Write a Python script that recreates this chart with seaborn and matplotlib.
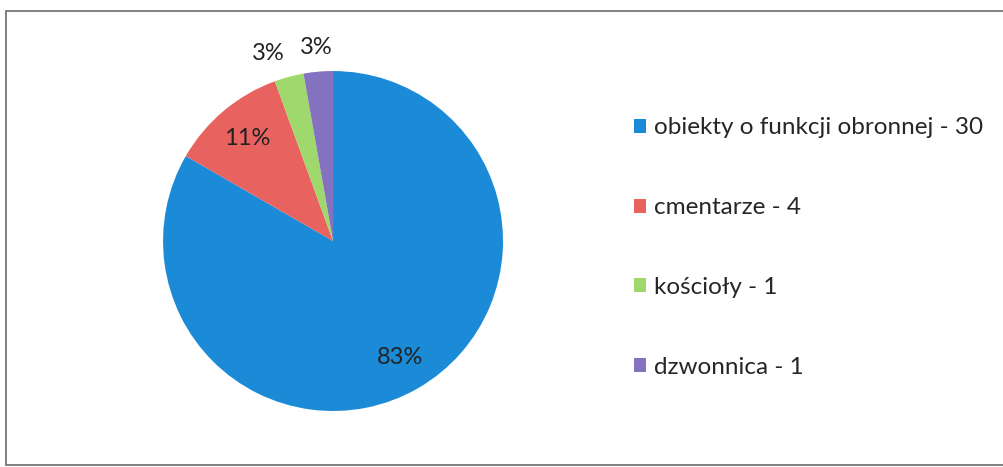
import matplotlib
matplotlib.use("Agg")
import matplotlib.pyplot as plt
import seaborn as sns
import numpy as np
from matplotlib.patches import Rectangle

sns.set_theme(style="white")
plt.rcParams['font.family'] = ['Lato', 'DejaVu Sans']

categories = ["obiekty o funkcji obronnej", "cmentarze", "kościoły", "dzwonnica"]
counts = [30, 4, 1, 1]
colors = sns.color_palette(["#1b8bd7", "#e8625f", "#9fd86c", "#8472c0"])

fig = plt.figure(figsize=(10.04, 4.67), dpi=100)
fig.patch.set_facecolor("white")
fig.patches.append(Rectangle((0.006, 0.004), 0.994, 0.972, transform=fig.transFigure,
                             fill=False, edgecolor="#6b6b6b", linewidth=1.2))

ax = fig.add_axes([0.1624, 0.1199, 0.3386, 0.728])
wedges, texts, autotexts = ax.pie(counts, colors=colors, startangle=90, counterclock=False,
                                  autopct=lambda p: f"{p:.0f}%", pctdistance=0.79,
                                  wedgeprops=dict(linewidth=0),
                                  textprops=dict(fontsize=17, color="#222222"))
ax.set_xlim(-1, 1)
ax.set_ylim(-1, 1)

# small slices: labels outside, above the pie
for w, t, dx in zip(wedges[2:], autotexts[2:], [-0.08, 0.0]):
    ang = np.deg2rad((w.theta1 + w.theta2) / 2)
    t.set_position((1.16 * np.cos(ang) + dx, 1.14 * np.sin(ang)))
    t.set_clip_on(False)

labels = [f"{c} - {n}" for c, n in zip(categories, counts)]
leg = ax.legend(wedges, labels, loc="upper left", bbox_to_anchor=(1.32, 0.928),
                frameon=False, fontsize=17.5, labelspacing=2.42,
                handlelength=0.5, handleheight=0.5, handletextpad=0.35)

fig.savefig("out.png", dpi=100)
